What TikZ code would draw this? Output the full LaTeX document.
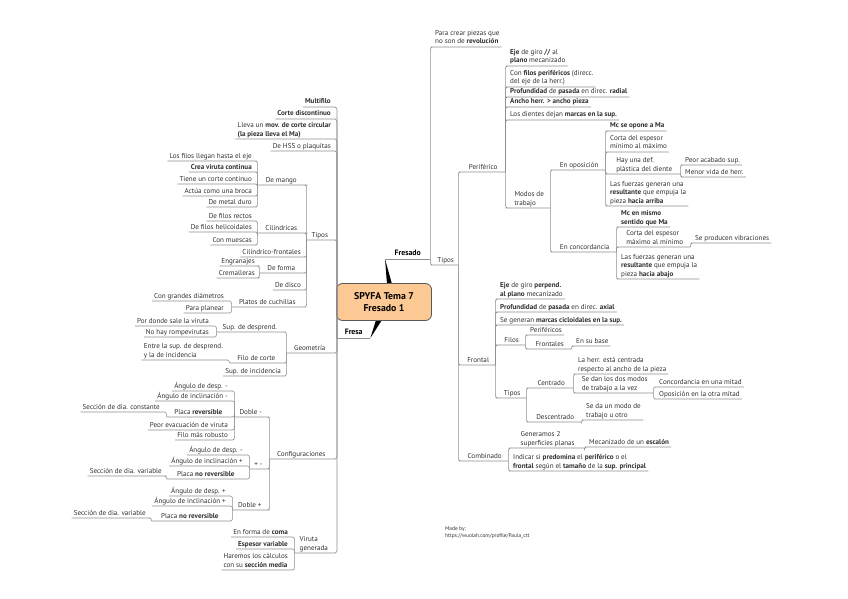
\documentclass[tikz,border=0pt]{standalone}
\usepackage{fontspec}
\setmainfont{PT Sans}
\usepackage{tikz}
\usetikzlibrary{positioning,calc,backgrounds}
\definecolor{LightOrange}{HTML}{FCC995}
\definecolor{LineGray}{HTML}{8F8F8F}
\definecolor{TextGray}{HTML}{303030}

\begin{document}
\begin{tikzpicture}[x=1pt,y=-1pt,
  topic/.style={inner xsep=2pt,inner ysep=1.2pt,text depth=1.6pt,align=left,font=\fontsize{7.1}{8.5}\selectfont,text=TextGray},
  lt/.style={topic,anchor=south east},
  rt/.style={topic,anchor=south west},
  link/.style={draw=LineGray,line width=0.6pt,rounded corners=2.5pt},
  main/.style={inner sep=2pt,text depth=1.6pt,font=\fontsize{7.8}{9}\selectfont\bfseries,minimum width=#1}
]
\useasboundingbox (0,0) rectangle (848,599);

\node[draw=black!65,line width=0.8pt,fill=LightOrange,rounded corners=6pt,minimum width=95pt,minimum height=37pt,align=center,font=\fontsize{9.8}{11.5}\selectfont\bfseries] (tema) at (384,302) {SPYFA Tema 7\\Fresado 1};
\node[main=45pt,anchor=south west] (fresado) at (385,259) {Fresado};
\node[main=33pt,anchor=south west] (fresa) at (337,338) {Fresa};
\draw[link] (fresado.south west) -- (fresado.south east);
\draw[link] (fresa.south west) -- (fresa.south east);
\begin{scope}[on background layer]
\fill (fresado.south west) -- ($(tema.north)+(8,1)$) -- ($(tema.north)+(3,1)$) -- cycle;
\fill (fresa.south east) -- ($(tema.south)+(-2,-1)$) -- ($(tema.south)+(-8,-1)$) -- cycle;
\end{scope}

\node[lt] (multi) at (333,107) {\textbf{Multifilo}};
\node[lt] (cdis) at (333,119) {\textbf{Corte discontinuo}};
\node[lt] (lleva) at (333,139) {Lleva un \textbf{mov. de corte circular}\\\textbf{(la pieza lleva el Ma)}};
\node[lt] (hss) at (333,151) {De HSS o plaquitas};
\node[lt,minimum width=26pt] (tiposL) at (333,240) {Tipos};
\node[lt,minimum width=46pt] (geom) at (333,353) {Geometría};
\node[lt,minimum width=63pt] (config) at (333,459) {Configuraciones};
\node[lt,minimum width=38pt] (viruta) at (333,553) {Viruta\\generada};

\node[lt,minimum width=47pt] (mango) at (305,185) {De mango};
\node[lt,minimum width=47pt] (cilin) at (305,233) {Cilíndricas};
\node[lt] (cilfr) at (303,257) {Cilíndrico-frontales};
\node[lt,minimum width=43pt] (forma) at (303,273) {De forma};
\node[lt] (disco) at (303,290) {De disco};
\node[lt,minimum width=71pt] (platos) at (303,307) {Platos de cuchillas};

\node[lt] (filos) at (254,161) {Los filos llegan hasta el eje};
\node[lt] (crea) at (254,172) {\textbf{Crea viruta continua}};
\node[lt] (tiene) at (254,184) {Tiene un corte continuo};
\node[lt] (actua) at (254,196) {Actúa como una broca};
\node[lt] (metal) at (254,207) {De metal duro};
\node[lt] (rectos) at (254,221) {De filos rectos};
\node[lt] (helic) at (254,232) {De filos helicoidales};
\node[lt] (muescas) at (254,245) {Con muescas};
\node[lt] (engr) at (257,266) {Engranajes};
\node[lt] (crem) at (257,278) {Cremalleras};
\node[lt] (grandes) at (226,301) {Con grandes diámetros};
\node[lt] (planear) at (226,313) {Para planear};

\node[lt,minimum width=66pt] (supdes) at (283,332) {Sup. de desprend.};
\node[lt,minimum width=53pt] (filo) at (283,363) {Filo de corte};
\node[lt] (supinc) at (283,376) {Sup. de incidencia};
\node[lt] (donde) at (211,326) {Por donde sale la viruta};
\node[lt] (rompe) at (211,337) {No hay rompevirutas};
\node[lt] (entre) at (225,360) {Entre la sup. de desprend.\\y la de incidencia};

\node[lt,minimum width=32pt] (dobm) at (267,417) {Doble -};
\node[lt,minimum width=17pt] (pm) at (267,469) {+ -};
\node[lt,minimum width=34pt] (dobp) at (267,510) {Doble +};
\node[lt] (ad1) at (230,391) {Ángulo de desp. -};
\node[lt] (ai1) at (230,401) {Ángulo de inclinación -};
\node[lt,minimum width=63pt] (placa1) at (230,417) {Placa \textbf{reversible}};
\node[lt] (peor) at (230,430) {Peor evacuación de viruta};
\node[lt] (robusto) at (230,440) {Filo más robusto};
\node[lt] (secc1) at (162,412) {Sección de dia. constante};
\node[lt] (ad2) at (245,455) {Ángulo de desp. -};
\node[lt] (ai2) at (245,466) {Ángulo de inclinación +};
\node[lt,minimum width=78pt] (placa2) at (245,479) {Placa \textbf{no reversible}};
\node[lt] (secc2) at (164,476) {Sección de dia. variable};
\node[lt] (ad3) at (228,496) {Ángulo de desp. +};
\node[lt] (ai3) at (228,506) {Ángulo de inclinación +};
\node[lt,minimum width=76pt] (placa3) at (228,521) {Placa \textbf{no reversible}};
\node[lt] (secc3) at (148,518) {Sección de dia. variable};
\node[lt] (coma) at (290,537) {En forma de \textbf{coma}};
\node[lt] (espesor) at (290,549) {\textbf{Espesor variable}};
\node[lt] (haremos) at (290,570) {Haremos los cálculos\\con su \textbf{sección media}};

\node[rt] (para) at (433,47) {Para crear piezas que\\no son de \textbf{revolución}};
\node[rt,minimum width=25pt] (tiposR) at (433,265) {Tipos};
\node[rt,minimum width=44pt] (peri) at (461,172) {Periférico};
\node[rt,minimum width=34pt] (frontal) at (461,365) {Frontal};
\node[rt,minimum width=47pt] (comb) at (461,461) {Combinado};

\node[rt] (eje1) at (508,66) {\textbf{Eje} de giro \textbf{//} al\\\textbf{plano} mecanizado};
\node[rt] (confil) at (508,87) {Con \textbf{filos periféricos} (direcc.\\del eje de la herr.)};
\node[rt] (prof1) at (508,97) {\textbf{Profundidad} de \textbf{pasada} en direc. \textbf{radial}};
\node[rt] (ancho) at (508,107) {\textbf{Ancho herr. > ancho pieza}};
\node[rt] (dientes) at (508,120) {Los dientes dejan \textbf{marcas en la sup.}};
\node[rt,minimum width=42pt] (modos) at (508,208) {Modos de\\trabajo};
\node[rt,minimum width=52pt] (opos) at (553,170) {En oposición};
\node[rt,minimum width=63pt] (conc) at (553,252) {En concordancia};
\node[rt] (mcop) at (608,131) {\textbf{Mc se opone a Ma}};
\node[rt] (corta1) at (608,152) {Corta del espesor\\mínimo al máximo};
\node[rt,minimum width=72pt] (hay) at (608,174) {Hay una def.\\plástica del diente};
\node[rt] (fuer1) at (608,206) {Las fuerzas generan una\\\textbf{resultante} que empuja la\\pieza \textbf{hacia arriba}};
\node[rt] (peor2) at (683,165) {Peor acabado sup.};
\node[rt] (menor) at (683,177) {Menor vida de herr.};
\node[rt] (mcmis) at (619,227) {\textbf{Mc en mismo}\\\textbf{sentido que Ma}};
\node[rt,minimum width=71pt] (corta2) at (619,247) {Corta del espesor\\máximo al mínimo};
\node[rt] (fuer2) at (619,279) {Las fuerzas generan una\\\textbf{resultante} que empuja la\\pieza \textbf{hacia abajo}};
\node[rt] (vibr) at (693,243) {Se producen vibraciones};

\node[rt] (eje2) at (498,299) {\textbf{Eje} de giro \textbf{perpend.}\\\textbf{al plano} mecanizado};
\node[rt] (prof2) at (498,312) {\textbf{Profundidad} de \textbf{pasada} en direc. \textbf{axial}};
\node[rt] (marcas) at (498,325) {Se generan \textbf{marcas cicloidales en la sup.}};
\node[rt,minimum width=27pt] (filosF) at (498,345) {Filos};
\node[rt,minimum width=28pt] (tiposF) at (498,398) {Tipos};
\node[rt] (perif) at (528,335) {Periféricos};
\node[rt,minimum width=43pt] (frontales) at (528,349) {Frontales};
\node[rt] (base) at (574,346) {En su base};
\node[rt,minimum width=44pt] (centr) at (529,388) {Centrado};
\node[rt,minimum width=52pt] (descentr) at (529,422) {Descentrado};
\node[rt] (herr) at (576,374) {La herr. está centrada\\respecto al ancho de la pieza};
\node[rt,minimum width=77pt] (sedan) at (576,393) {Se dan los dos modos\\de trabajo a la vez};
\node[rt] (concm) at (657,387) {Concordancia en una mitad};
\node[rt] (oposm) at (657,399) {Oposición en la otra mitad};
\node[rt] (seda) at (584,420) {Se da un modo de\\trabajo u otro};

\node[rt,minimum width=73pt] (gener) at (511,448) {Generamos 2\\superficies planas};
\node[rt] (indicar) at (511,471) {Indicar si \textbf{predomina} el \textbf{periférico} o el\\\textbf{frontal} según el \textbf{tamaño} de la \textbf{sup. principal}};
\node[rt] (mecan) at (587,447) {Mecanizado de un \textbf{escalón}};

\node[anchor=north west,inner sep=0pt,align=left,font=\fontsize{5.4}{6.6}\selectfont,text=TextGray] (madeby) at (445,527) {Made by:\\https://wuolah.com/profile/Paula\_ctt};

\foreach \c/\p in {multi/fresa,cdis/fresa,lleva/fresa,hss/fresa,tiposL/fresa,geom/fresa,config/fresa,viruta/fresa,
  mango/tiposL,cilin/tiposL,cilfr/tiposL,forma/tiposL,disco/tiposL,platos/tiposL,
  filos/mango,crea/mango,tiene/mango,actua/mango,metal/mango,rectos/cilin,helic/cilin,muescas/cilin,
  engr/forma,crem/forma,grandes/platos,planear/platos,
  supdes/geom,filo/geom,supinc/geom,donde/supdes,rompe/supdes,entre/filo,
  dobm/config,pm/config,dobp/config,ad1/dobm,ai1/dobm,placa1/dobm,peor/dobm,robusto/dobm,secc1/placa1,
  ad2/pm,ai2/pm,placa2/pm,secc2/placa2,ad3/dobp,ai3/dobp,placa3/dobp,secc3/placa3,
  coma/viruta,espesor/viruta,haremos/viruta}
  \draw[link] (\c.south west) -- (\c.south east) -| (\p.south west);

\foreach \c/\p in {para/fresado,tiposR/fresado,peri/tiposR,frontal/tiposR,comb/tiposR,
  eje1/peri,confil/peri,prof1/peri,ancho/peri,dientes/peri,modos/peri,opos/modos,conc/modos,
  mcop/opos,corta1/opos,hay/opos,fuer1/opos,peor2/hay,menor/hay,mcmis/conc,corta2/conc,fuer2/conc,vibr/corta2,
  eje2/frontal,prof2/frontal,marcas/frontal,filosF/frontal,tiposF/frontal,perif/filosF,frontales/filosF,base/frontales,
  centr/tiposF,descentr/tiposF,herr/centr,sedan/centr,concm/sedan,oposm/sedan,seda/descentr,
  gener/comb,indicar/comb,mecan/gener}
  \draw[link] (\c.south east) -- (\c.south west) -| (\p.south east);
\end{tikzpicture}
\end{document}
